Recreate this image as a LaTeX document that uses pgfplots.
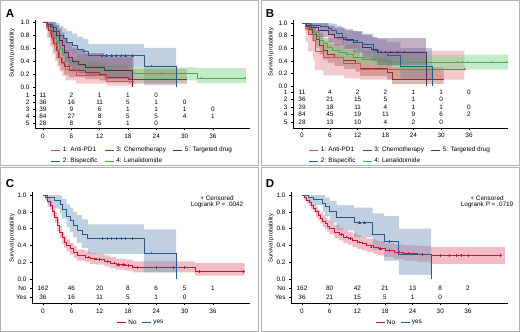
\documentclass[border=0pt]{standalone}
\usepackage{pgfplots}
\pgfplotsset{compat=1.18}
\usepackage{pgfplotstable}
\usepackage{fontspec}
\setmainfont{Liberation Sans}
\newcommand\fs{\fontsize{6.4}{7.4}\selectfont}
\definecolor{cRed}{RGB}{210,80,95}
\definecolor{bRed}{RGB}{232,135,150}
\definecolor{cBlue}{RGB}{40,90,140}
\definecolor{bBlue}{RGB}{115,150,188}
\definecolor{cBrown}{RGB}{140,55,40}
\definecolor{bBrown}{RGB}{170,105,90}
\definecolor{cGreen}{RGB}{70,170,80}
\definecolor{bGreen}{RGB}{125,210,130}
\definecolor{cPurple}{RGB}{90,40,90}
\definecolor{bPurple}{RGB}{120,80,130}
\definecolor{cNo}{RGB}{200,20,60}
\definecolor{bNo}{RGB}{232,105,125}

% ---------- Panel A curves ----------
\pgfplotstableread{
t s
0 1.00
0.8 0.91
1.5 0.82
2.0 0.73
2.5 0.64
3.0 0.55
3.5 0.45
4.0 0.36
4.8 0.27
7.0 0.18
13.5 0.09
19.3 0.09
}\tAa
\pgfplotstableread{
t s
0 1.00
1.0 0.97
2.0 0.92
2.8 0.86
3.5 0.80
4.3 0.75
5.0 0.69
6.2 0.64
7.2 0.58
8.5 0.55
9.6 0.48
21.4 0.32
28.2 0.00
}\tAb
\pgfplotstableread{
t s
0 1.00
0.7 0.95
1.2 0.87
1.8 0.77
2.3 0.67
2.8 0.56
3.3 0.46
3.8 0.38
4.5 0.31
5.5 0.26
9.0 0.23
12.0 0.20
13.5 0.15
18.0 0.12
30.5 0.12
}\tAc
\pgfplotstableread{
t s
0 1.00
0.8 0.95
1.5 0.88
2.2 0.79
2.8 0.69
3.4 0.60
4.0 0.52
4.8 0.45
5.5 0.40
6.5 0.36
8.0 0.33
10.0 0.30
12.5 0.27
15.0 0.25
19.0 0.21
32.6 0.14
43.0 0.14
}\tAd
\pgfplotstableread{
t s
0 1.00
0.8 0.96
1.5 0.93
2.2 0.86
2.8 0.79
3.4 0.71
4.0 0.64
4.6 0.54
5.3 0.46
6.2 0.39
7.5 0.35
9.0 0.30
13.0 0.25
19.0 0.00
}\tAe
\pgfplotstableread{
x y n
0 -0.123 11
6 -0.123 2
12 -0.123 1
18 -0.123 1
24 -0.123 0
0 -0.231 36
6 -0.231 16
12 -0.231 11
18 -0.231 5
24 -0.231 1
30 -0.231 0
0 -0.338 39
6 -0.338 9
12 -0.338 6
18 -0.338 1
24 -0.338 1
30 -0.338 1
36 -0.338 0
0 -0.446 84
6 -0.446 27
12 -0.446 8
18 -0.446 5
24 -0.446 5
30 -0.446 4
36 -0.446 1
0 -0.554 28
6 -0.554 8
12 -0.554 5
18 -0.554 1
24 -0.554 0
}\rA

% ---------- Panel B curves ----------
\pgfplotstableread{
t s
0 1.00
0.8 0.91
1.3 0.82
2.4 0.73
2.8 0.55
4.6 0.45
9.0 0.36
12.5 0.27
35.0 0.27
}\tBa
\pgfplotstableread{
t s
0 1.00
1.7 0.97
3.9 0.94
5.7 0.92
6.4 0.89
7.5 0.84
8.6 0.78
9.5 0.73
12.0 0.70
13.0 0.66
15.4 0.57
16.5 0.54
18.3 0.48
21.2 0.31
28.0 0.00
}\tBb
\pgfplotstableread{
t s
0 1.00
0.8 0.95
1.5 0.90
2.2 0.82
3.0 0.74
3.8 0.64
4.5 0.56
5.5 0.51
7.0 0.46
9.0 0.41
11.5 0.36
12.5 0.28
18.3 0.22
19.4 0.10
30.5 0.10
}\tBc
\pgfplotstableread{
t s
0 1.00
0.8 0.96
1.5 0.91
2.2 0.85
3.0 0.79
3.8 0.73
4.6 0.67
5.5 0.61
6.5 0.57
8.0 0.53
9.5 0.50
11.0 0.46
13.0 0.43
16.0 0.41
19.5 0.38
44.5 0.38
}\tBd
\pgfplotstableread{
t s
0 1.00
1.0 0.96
2.0 0.93
3.5 0.89
5.7 0.82
7.0 0.78
9.0 0.74
11.0 0.70
13.0 0.62
15.0 0.58
16.2 0.54
26.7 0.00
}\tBe
\pgfplotstableread{
x y n
0 -0.095 11
6 -0.095 4
12 -0.095 2
18 -0.095 2
24 -0.095 1
30 -0.095 1
36 -0.095 0
0 -0.214 36
6 -0.214 21
12 -0.214 15
18 -0.214 5
24 -0.214 1
30 -0.214 0
0 -0.333 39
6 -0.333 18
12 -0.333 11
18 -0.333 4
24 -0.333 1
30 -0.333 1
36 -0.333 0
0 -0.452 84
6 -0.452 45
12 -0.452 19
18 -0.452 11
24 -0.452 9
30 -0.452 6
36 -0.452 2
0 -0.571 28
6 -0.571 13
12 -0.571 10
18 -0.571 4
24 -0.571 2
30 -0.571 0
}\rB

% ---------- Panel C curves ----------
\pgfplotstableread{
t s
0 1.00
0.5 0.97
1.0 0.93
1.5 0.88
2.0 0.81
2.5 0.74
3.0 0.64
3.5 0.56
4.0 0.49
4.5 0.44
5.0 0.40
5.7 0.36
6.5 0.32
7.2 0.28
8.9 0.26
10.0 0.24
11.4 0.23
13.0 0.21
14.2 0.19
15.5 0.17
17.5 0.16
19.0 0.14
32.2 0.09
42.7 0.09
}\tCa
\pgfplotstableread{
t s
0 1.00
1.0 0.97
2.5 0.94
3.6 0.89
4.0 0.83
5.0 0.75
5.7 0.70
6.4 0.64
7.2 0.58
8.3 0.53
9.5 0.48
21.4 0.31
28.2 0.00
}\tCb
\pgfplotstableread{
x y n
0 -0.107 162
6 -0.107 46
12 -0.107 20
18 -0.107 8
24 -0.107 6
30 -0.107 5
36 -0.107 1
0 -0.214 36
6 -0.214 16
12 -0.214 11
18 -0.214 5
24 -0.214 1
30 -0.214 0
}\rC

% ---------- Panel D curves ----------
\pgfplotstableread{
t s
0 1.00
0.5 0.97
1.0 0.94
1.5 0.91
2.0 0.88
2.5 0.84
3.0 0.80
3.5 0.76
4.0 0.72
4.5 0.69
5.0 0.66
5.5 0.63
6.0 0.60
7.0 0.56
8.0 0.53
9.0 0.50
10.0 0.48
11.0 0.46
12.0 0.44
13.0 0.42
14.0 0.40
15.5 0.38
16.5 0.36
18.0 0.34
20.0 0.32
22.0 0.30
25.0 0.29
28.0 0.28
43.5 0.28
}\tDa
\pgfplotstableread{
t s
0 1.00
1.3 0.97
2.5 0.95
4.5 0.90
5.0 0.86
6.0 0.80
7.5 0.73
11.3 0.67
15.3 0.53
17.8 0.45
21.0 0.29
28.0 0.00
}\tDb
\pgfplotstableread{
x y n
0 -0.107 162
6 -0.107 80
12 -0.107 42
18 -0.107 21
24 -0.107 13
30 -0.107 8
36 -0.107 2
0 -0.214 36
6 -0.214 21
12 -0.214 15
18 -0.214 5
24 -0.214 1
30 -0.214 0
}\rD

\pgfplotsset{
  kmaxis/.style={scale only axis, anchor=south west,
    axis x line*=bottom, axis y line*=left,
    axis line style={line width=0.55pt},
    tick align=outside, major tick length=2pt,
    tick style={line width=0.55pt, black},
    xtick={0,6,...,36},
    tick label style={font=\fs},
    /pgf/number format/assume math mode=true,
    legend style={draw=none, fill=none, font=\fs, anchor=north,
      inner sep=0pt, row sep=1.2pt,
      /tikz/every even column/.append style={column sep=5pt}},
    legend cell align=left,
    legend image code/.code={\draw[##1, line width=0.8pt] (0pt,0pt) -- (9pt,0pt);},
  },
  risk/.style={draw=none, mark=none, forget plot, nodes near coords,
    point meta=explicit symbolic,
    every node near coord/.append style={anchor=center, font=\fs, inner sep=0pt}},
  cens/.style={only marks, mark=+, mark size=1.3pt, forget plot, line width=0.4pt, color=#1},
  band/.style={const plot, draw=none, forget plot, fill=#1, fill opacity=0.45},
  kml/.style={const plot, forget plot, color=#1, line width=0.7pt},
}

\begin{document}
\begin{tikzpicture}
\useasboundingbox (0,0) rectangle (520pt,332pt);
\draw[gray!60, line width=0.8pt] (0.4pt,167pt) rectangle (258.5pt,331.6pt);
\draw[gray!60, line width=0.8pt] (261.5pt,167pt) rectangle (519.6pt,331.6pt);
\draw[gray!60, line width=0.8pt] (0.4pt,0.4pt) rectangle (258.5pt,165pt);
\draw[gray!60, line width=0.8pt] (261.5pt,0.4pt) rectangle (519.6pt,165pt);

\node[font=\bfseries\fontsize{11.5}{12}\selectfont] at (10pt,318pt) {A};
\node[font=\bfseries\fontsize{11.5}{12}\selectfont] at (270pt,318pt) {B};
\node[font=\bfseries\fontsize{11.5}{12}\selectfont] at (10pt,148pt) {C};
\node[font=\bfseries\fontsize{11.5}{12}\selectfont] at (270pt,148pt) {D};

\node[rotate=90, font=\fontsize{5.8}{6}\selectfont] at (12pt,279pt) {Survival probability};
\node[rotate=90, font=\fontsize{5.8}{6}\selectfont] at (271pt,280pt) {Survival probability};
\node[rotate=90, font=\fontsize{5.8}{6}\selectfont] at (12pt,94pt) {Survival probability};
\node[rotate=90, font=\fontsize{5.8}{6}\selectfont] at (271pt,94pt) {Survival probability};

% ===== A =====
\begin{axis}[kmaxis, at={(35pt,203.5pt)}, width=215pt, height=108.5pt,
  xmin=-1.69, xmax=43.86, ymin=-0.638, ymax=1.03,
  ytick={-0.554,-0.446,-0.338,-0.231,-0.123,0,0.2,0.4,0.6,0.8,1.0},
  yticklabels={5,4,3,2,1,0.0,0.2,0.4,0.6,0.8,1.0},
  legend columns=3,
  legend style={at={(axis description cs:0.5,-0.15)}}]
% bands: upper edge forward, lower edge backward
\addplot[band=bRed] coordinates {(0,1)(0.8,1)(1.5,1)(2,1)(2.5,.95)(3,.88)(3.5,.80)(4,.70)(4.8,.58)(7,.50)(13.5,.45)(19.3,.45)
 (19.3,.02)(13.5,.05)(7,.10)(4.8,.17)(4,.24)(3.5,.32)(3,.40)(2.5,.50)(2,.62)(1.5,.75)(0.8,1)(0,1)};
\addplot[band=bBlue] coordinates {(0,1)(1,1)(2,1)(2.8,.98)(3.5,.94)(4.3,.90)(5,.86)(6.2,.82)(7.2,.77)(8.5,.74)(9.6,.66)(21.4,.60)(28.2,.60)
 (28.2,.03)(21.4,.30)(9.6,.41)(8.5,.44)(7.2,.50)(6.2,.55)(5.0,.62)(4.3,.68)(3.5,.75)(2.8,.83)(2.0,.92)(1.0,1)(0,1)};
\addplot[band=bBrown] coordinates {(0,1)(.7,1)(1.2,.98)(1.8,.90)(2.3,.82)(2.8,.72)(3.3,.63)(3.8,.55)(4.5,.48)(5.5,.43)(9,.40)(12,.37)(13.5,.32)(18,.28)(30.5,.28)
 (30.5,.05)(18,.07)(13.5,.10)(12,.12)(9,.15)(5.5,.19)(4.5,.26)(3.8,.33)(3.3,.43)(2.8,.54)(2.3,.65)(1.8,.77)(1.2,.88)(.7,1)(0,1)};
\addplot[band=bGreen] coordinates {(0,1)(.8,.99)(1.5,.94)(2.2,.87)(2.8,.78)(3.4,.70)(4,.62)(4.8,.56)(5.5,.50)(6.5,.46)(8,.43)(10,.40)(12.5,.37)(15,.35)(19,.30)(32.6,.29)(43,.29)
 (43,.06)(32.6,.10)(19,.16)(15,.18)(12.5,.21)(10,.24)(8,.27)(6.5,.31)(5.5,.36)(4.8,.43)(4,.51)(3.4,.60)(2.8,.72)(2.2,.82)(1.5,.91)(.8,1)(0,1)};
\addplot[band=bPurple] coordinates {(0,1)(.8,1)(1.5,1)(2.2,.99)(2.8,.95)(3.4,.90)(4,.84)(4.6,.76)(5.3,.68)(6.2,.61)(7.5,.57)(9,.52)(13,.47)(19,.47)
 (19,.12)(13,.17)(9,.21)(7.5,.24)(6.2,.31)(5.3,.38)(4.6,.48)(4,.56)(3.4,.65)(2.8,.74)(2.2,.84)(1.5,.90)(.8,1)(0,1)};
\addplot[kml=cGreen] table[x=t,y=s]{\tAd};
\addplot[kml=cBrown] table[x=t,y=s]{\tAc};
\addplot[kml=cPurple] table[x=t,y=s]{\tAe};
\addplot[kml=cRed] table[x=t,y=s]{\tAa};
\addplot[kml=cBlue] table[x=t,y=s]{\tAb};
\addplot[cens=cBlue] coordinates {(12.5,0.48)(13.5,0.48)(14.5,0.48)(15.5,0.48)(16.5,0.48)(17.5,0.48)(19,0.48)(23,0.32)};
\addplot[cens=cGreen] coordinates {(33.5,0.14)(42.8,0.14)(25,0.21)};
\addplot[risk] table[x=x,y=y,meta=n]{\rA};
\addlegendimage{cRed}\addlegendentry{1: Anti-PD1}
\addlegendimage{cBrown}\addlegendentry{3: Chemotherapy}
\addlegendimage{cPurple}\addlegendentry{5: Targeted drug}
\addlegendimage{cBlue}\addlegendentry{2: Bispecific}
\addlegendimage{cGreen}\addlegendentry{4: Lenalidomide}
\end{axis}

% ===== B =====
\begin{axis}[kmaxis, at={(293pt,204pt)}, width=215pt, height=108pt,
  xmin=-1.94, xmax=44.4, ymin=-0.667, ymax=1.048,
  ytick={-0.571,-0.452,-0.333,-0.214,-0.095,0,0.2,0.4,0.6,0.8,1.0},
  yticklabels={5,4,3,2,1,0.0,0.2,0.4,0.6,0.8,1.0},
  legend columns=3,
  legend style={at={(axis description cs:0.5,-0.155)}}]
\addplot[band=bRed] coordinates {(0,1)(.8,1)(1.3,1)(2.4,.98)(2.8,.85)(4.6,.76)(9,.66)(12.5,.56)(35,.56)
 (35,.10)(12.5,.12)(9,.17)(4.6,.25)(2.8,.42)(2.4,.55)(1.3,.70)(.8,1)(0,1)};
\addplot[band=bBlue] coordinates {(0,1)(1.7,1)(3.9,1)(5.7,1)(6.4,.99)(7.5,.96)(8.6,.92)(9.5,.88)(12,.86)(13,.83)(15.4,.76)(16.5,.74)(18.3,.70)(21.2,.60)(28,.60)
 (28,.10)(21.2,.32)(18.3,.38)(16.5,.42)(15.4,.52)(13,.56)(12,.60)(9.5,.66)(8.6,.73)(7.5,.79)(6.4,.83)(5.7,.87)(3.9,.92)(1.7,1)(0,1)};
\addplot[band=bBrown] coordinates {(0,1)(.8,1)(1.5,.99)(2.2,.94)(3,.88)(3.8,.79)(4.5,.72)(5.5,.67)(7,.62)(9,.57)(11.5,.53)(12.5,.45)(18.3,.40)(19.4,.30)(30.5,.30)
 (30.5,.03)(19.4,.10)(18.3,.16)(12.5,.23)(11.5,.27)(9,.32)(7,.37)(5.5,.42)(4.5,.50)(3.8,.61)(3,.71)(2.2,.81)(1.5,.88)(.8,1)(0,1)};
\addplot[band=bGreen] coordinates {(0,1)(.8,1)(1.5,.97)(2.2,.92)(3,.87)(3.8,.82)(4.6,.77)(5.5,.71)(6.5,.67)(8,.63)(9.5,.60)(11,.57)(13,.54)(16,.52)(19.5,.50)(44.5,.50)
 (44.5,.26)(19.5,.31)(16,.33)(13,.36)(11,.40)(9.5,.43)(8,.48)(6.5,.52)(5.5,.58)(4.6,.64)(3.8,.71)(3,.78)(2.2,.85)(1.5,.92)(.8,1)(0,1)};
\addplot[band=bPurple] coordinates {(0,1)(1,1)(2,1)(3.5,1)(5.7,.96)(7,.93)(9,.90)(11,.87)(13,.81)(15,.78)(16.2,.76)(26.7,.76)
 (26.7,.33)(16.2,.40)(15,.44)(13,.53)(11,.58)(9,.63)(7,.69)(5.7,.78)(3.5,.84)(2,.90)(1,1)(0,1)};
\addplot[kml=cGreen] table[x=t,y=s]{\tBd};
\addplot[kml=cBrown] table[x=t,y=s]{\tBc};
\addplot[kml=cRed] table[x=t,y=s]{\tBa};
\addplot[kml=cPurple] table[x=t,y=s]{\tBe};
\addplot[kml=cBlue] table[x=t,y=s]{\tBb};
\addplot[cens=cPurple] coordinates {(17,0.54)(18,0.54)(19,0.54)(20.5,0.54)(22,0.54)};
\addplot[cens=cGreen] coordinates {(33.5,0.38)(34.5,0.38)(35.5,0.38)(41,0.38)(44,0.38)};
\addplot[cens=cRed] coordinates {(15,0.27)(35,0.27)};
\addplot[risk] table[x=x,y=y,meta=n]{\rB};
\addlegendimage{cRed}\addlegendentry{1: Anti-PD1}
\addlegendimage{cBrown}\addlegendentry{3: Chemotherapy}
\addlegendimage{cPurple}\addlegendentry{5: Targeted drug}
\addlegendimage{cBlue}\addlegendentry{2: Bispecific}
\addlegendimage{cGreen}\addlegendentry{4: Lenalidomide}
\end{axis}

% ===== C =====
\begin{axis}[kmaxis, at={(32pt,29pt)}, width=218pt, height=111pt,
  xmin=-2.33, xmax=43.86, ymin=-0.286, ymax=1.036,
  ytick={-0.214,-0.107,0,0.2,0.4,0.6,0.8,1.0},
  yticklabels={Yes,No,0.0,0.2,0.4,0.6,0.8,1.0},
  legend columns=2,
  legend style={at={(axis description cs:0.5,-0.13)},
    /tikz/every even column/.append style={column sep=3pt}}]
\addplot[band=bNo] coordinates {(0,1)(.5,.99)(1,.97)(1.5,.93)(2,.87)(2.5,.80)(3,.71)(3.5,.63)(4,.56)(4.5,.51)(5,.47)(5.7,.43)(6.5,.39)(7.2,.35)(8.9,.33)(10,.31)(11.4,.30)(13,.28)(14.2,.26)(15.5,.24)(17.5,.23)(19,.21)(32.2,.19)(42.7,.19)
 (42.7,.04)(32.2,.08)(19,.10)(17.5,.11)(15.5,.13)(14.2,.15)(13,.17)(11.4,.18)(10,.20)(8.9,.22)(7.2,.25)(6.5,.29)(5.7,.33)(5,.37)(4.5,.42)(4,.49)(3.5,.57)(3,.67)(2.5,.75)(2,.83)(1.5,.89)(1,.94)(.5,1)(0,1)};
\addplot[band=bBlue] coordinates {(0,1)(1,1)(2.5,1)(3.6,.99)(4,.95)(5,.89)(5.7,.85)(6.4,.80)(7.2,.76)(8.3,.71)(9.5,.65)(21.4,.59)(28.2,.59)
 (28.2,.08)(21.4,.30)(9.5,.37)(8.3,.43)(7.2,.50)(6.4,.56)(5.7,.62)(5,.72)(4,.78)(3.6,.84)(2.5,.86)(1,1)(0,1)};
\addplot[kml=cNo] table[x=t,y=s]{\tCa};
\addplot[kml=cBlue] table[x=t,y=s]{\tCb};
\addplot[cens=cBlue] coordinates {(12.5,0.48)(13.5,0.48)(14.5,0.48)(15.5,0.48)(16.5,0.48)(17.5,0.48)(19,0.48)(23,0.31)};
\addplot[cens=cNo] coordinates {(9.5,0.26)(11,0.24)(12,0.23)(13.5,0.21)(15,0.19)(16,0.17)(17,0.17)(18,0.16)(20,0.14)(24,0.14)(27.5,0.14)(30,0.14)(33,0.09)(42.5,0.09)};
\addplot[risk] table[x=x,y=y,meta=n]{\rC};
\addlegendimage{cNo}\addlegendentry{No}
\addlegendimage{cBlue}\addlegendentry{yes}
\end{axis}
\node[font=\fs] at (217pt,134pt) {+ Censored};
\node[font=\fs] at (217pt,127pt) {Logrank \textit{P} = .0042};

% ===== D =====
\begin{axis}[kmaxis, at={(291pt,29pt)}, width=217pt, height=111pt,
  xmin=-2.39, xmax=44.7, ymin=-0.286, ymax=1.036,
  ytick={-0.214,-0.107,0,0.2,0.4,0.6,0.8,1.0},
  yticklabels={Yes,No,0.0,0.2,0.4,0.6,0.8,1.0},
  legend columns=2,
  legend style={at={(axis description cs:0.5,-0.13)},
    /tikz/every even column/.append style={column sep=3pt}}]
\addplot[band=bNo] coordinates {(0,1)(.5,.99)(1,.97)(1.5,.95)(2,.92)(2.5,.89)(3,.86)(3.5,.82)(4,.79)(4.5,.76)(5,.73)(5.5,.70)(6,.68)(7,.64)(8,.61)(9,.58)(10,.56)(11,.54)(12,.52)(13,.50)(14,.48)(15.5,.47)(16.5,.45)(18,.43)(20,.41)(22,.40)(25,.39)(28,.38)(44,.38)
 (44,.18)(28,.20)(25,.22)(22,.24)(20,.26)(18,.28)(16.5,.30)(15.5,.32)(14,.34)(13,.36)(12,.38)(11,.41)(10,.43)(9,.46)(8,.49)(7,.53)(6,.56)(5.5,.59)(5,.62)(4.5,.66)(4,.70)(3.5,.74)(3,.79)(2.5,.83)(2,.87)(1.5,.90)(1,.94)(.5,1)(0,1)};
\addplot[band=bBlue] coordinates {(0,1)(1.3,1)(2.5,1)(4.5,1)(5,.97)(6,.93)(7.5,.88)(11.3,.85)(15.3,.78)(17.8,.75)(21,.60)(28,.60)
 (28,.05)(21,.22)(17.8,.35)(15.3,.50)(11.3,.58)(7.5,.67)(6,.75)(5,.80)(4.5,.88)(2.5,.92)(1.3,1)(0,1)};
\addplot[kml=cNo] table[x=t,y=s]{\tDa};
\addplot[kml=cBlue] table[x=t,y=s]{\tDb};
\addplot[cens=cBlue] coordinates {(12.5,0.67)(13.5,0.67)(19,0.45)};
\addplot[cens=cNo] coordinates {(8.5,0.53)(9.5,0.50)(10.5,0.48)(12.5,0.44)(15,0.38)(17,0.36)(19,0.34)(21,0.32)(23,0.30)(26,0.29)(30,0.28)(32,0.28)(33.5,0.28)(34.5,0.28)(36,0.28)(43,0.28)};
\addplot[risk] table[x=x,y=y,meta=n]{\rD};
\addlegendimage{cNo}\addlegendentry{No}
\addlegendimage{cBlue}\addlegendentry{yes}
\end{axis}
\node[font=\fs] at (487pt,134pt) {+ Censored};
\node[font=\fs] at (487pt,127pt) {Logrank \textit{P} = .0719};
\end{tikzpicture}
\end{document}
